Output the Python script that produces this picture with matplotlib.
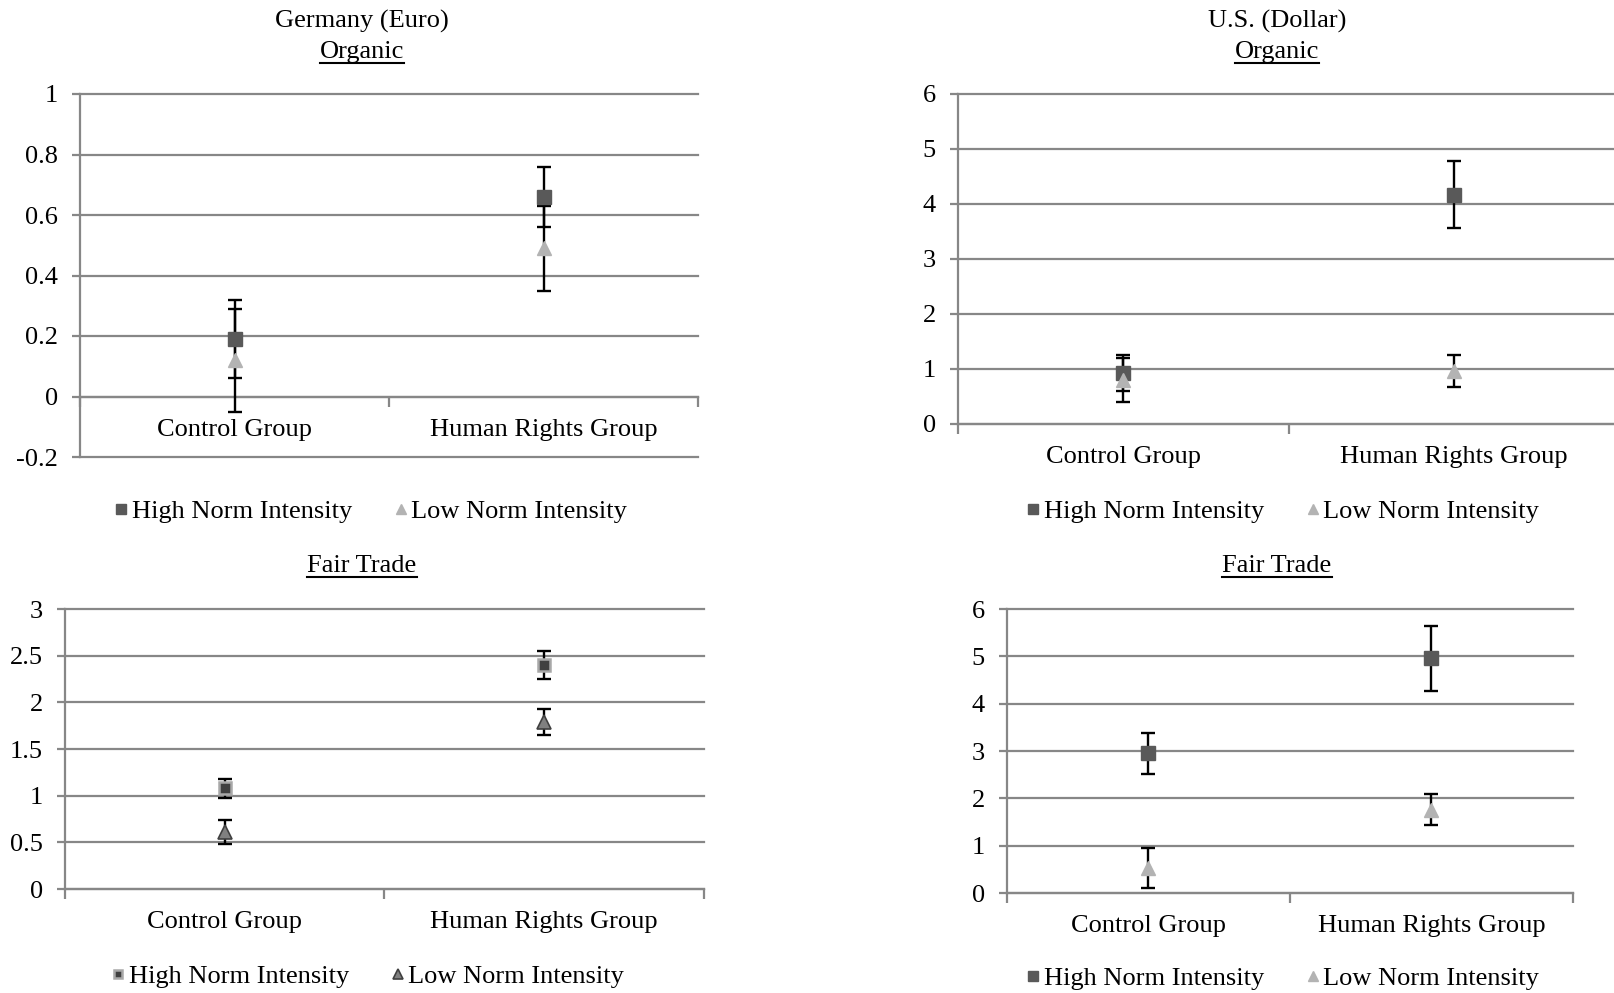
import numpy as np
import matplotlib.pyplot as plt
from matplotlib.lines import Line2D

plt.rcParams['font.family'] = ['Liberation Serif', 'DejaVu Serif']

groups = ["Control Group", "Human Rights Group"]
series = ["High Norm Intensity", "Low Norm Intensity"]

# Germany (Euro), organic
de_org_high = [0.19, 0.66]
de_org_high_err = [0.13, 0.10]
de_org_low = [0.12, 0.49]
de_org_low_err = [0.17, 0.14]
de_org_ticks = [-0.2, 0, 0.2, 0.4, 0.6, 0.8, 1]
de_org_labels = ["-0.2", "0", "0.2", "0.4", "0.6", "0.8", "1"]

# U.S. (Dollar), organic
us_org_high = [0.93, 4.17]
us_org_high_err = [0.33, 0.61]
us_org_low = [0.80, 0.97]
us_org_low_err = [0.40, 0.29]
us_org_ticks = [0, 1, 2, 3, 4, 5, 6]
us_org_labels = ["0", "1", "2", "3", "4", "5", "6"]

# Germany (Euro), fair trade
de_ft_high = [1.08, 2.40]
de_ft_high_err = [0.10, 0.15]
de_ft_low = [0.61, 1.79]
de_ft_low_err = [0.125, 0.14]
de_ft_ticks = [0, 0.5, 1, 1.5, 2, 2.5, 3]
de_ft_labels = ["0", "0.5", "1", "1.5", "2", "2.5", "3"]

# U.S. (Dollar), fair trade
us_ft_high = [2.95, 4.96]
us_ft_high_err = [0.43, 0.69]
us_ft_low = [0.53, 1.76]
us_ft_low_err = [0.43, 0.33]
us_ft_ticks = [0, 1, 2, 3, 4, 5, 6]
us_ft_labels = ["0", "1", "2", "3", "4", "5", "6"]

GRID = '#878787'
FS = 19
W, H = 1615, 993

hi_plain = dict(marker='s', ms=9.5, mfc='#595959', mec='#595959')
lo_plain = dict(marker='^', ms=10, mfc='#b3b3b3', mec='#b3b3b3')
hi_edged = dict(marker='s', ms=8.5, mfc='#404040', mec='#a8a8a8', mew=1.8)
lo_edged = dict(marker='^', ms=9.5, mfc='#808080', mec='#404040', mew=1.2)


def box(left, right, top, bottom):
    return [left / W, 1 - bottom / H, (right - left) / W, (bottom - top) / H]


def panel(ax, high, high_err, low, low_err, ticks, labels, hi_style, lo_style):
    x = np.arange(len(groups)) + 0.5
    for yv in ticks:
        ax.axhline(yv, color=GRID, lw=1.6, zorder=1, clip_on=False)
    ax.errorbar(x, high, yerr=high_err, fmt='none', ecolor='black',
                elinewidth=1.7, capsize=5, capthick=1.7, zorder=3)
    ax.errorbar(x, low, yerr=low_err, fmt='none', ecolor='black',
                elinewidth=1.7, capsize=5, capthick=1.7, zorder=3)
    ax.plot(x, high, linestyle='none', zorder=4, label=series[0], **hi_style)
    ax.plot(x, low, linestyle='none', zorder=4, label=series[1], **lo_style)
    ax.set_xlim(0, 2)
    ax.set_ylim(ticks[0], ticks[-1])
    ax.set_yticks(ticks)
    ax.set_yticklabels(labels)
    for s in ['top', 'right']:
        ax.spines[s].set_visible(False)
    ax.spines['bottom'].set_position(('data', 0))
    ax.spines['bottom'].set_color(GRID)
    ax.spines['bottom'].set_linewidth(1.6)
    ax.spines['left'].set_color(GRID)
    ax.spines['left'].set_linewidth(1.6)
    ax.set_xticks([0, 1, 2])
    ax.set_xticklabels([])
    ax.set_xticks(x, minor=True)
    ax.set_xticklabels(groups, minor=True)
    ax.tick_params(axis='x', which='major', length=7, width=1.6, color=GRID)
    ax.tick_params(axis='x', which='minor', length=0, pad=16, labelsize=FS)
    ax.tick_params(axis='y', length=6, width=1.6, color=GRID, pad=10, labelsize=FS)


fig = plt.figure(figsize=(W / 100, H / 100), dpi=100)

ax1 = fig.add_axes(box(80, 698, 94, 457))
panel(ax1, de_org_high, de_org_high_err, de_org_low, de_org_low_err,
      de_org_ticks, de_org_labels, hi_plain, lo_plain)

ax2 = fig.add_axes(box(958, 1619, 94, 424))
panel(ax2, us_org_high, us_org_high_err, us_org_low, us_org_low_err,
      us_org_ticks, us_org_labels, hi_plain, lo_plain)

ax3 = fig.add_axes(box(65, 704, 609, 889))
panel(ax3, de_ft_high, de_ft_high_err, de_ft_low, de_ft_low_err,
      de_ft_ticks, de_ft_labels, hi_edged, lo_edged)

ax4 = fig.add_axes(box(1007, 1573, 609, 893))
panel(ax4, us_ft_high, us_ft_high_err, us_ft_low, us_ft_low_err,
      us_ft_ticks, us_ft_labels, hi_plain, lo_plain)

# titles
fig.text(362 / W, 1 - 21 / H, "Germany (Euro)", ha='center', va='center', fontsize=FS)
fig.text(1277 / W, 1 - 21 / H, "U.S. (Dollar)", ha='center', va='center', fontsize=FS)
underlined = [
    fig.text(362 / W, 1 - 52 / H, "Organic", ha='center', va='center', fontsize=FS),
    fig.text(1277 / W, 1 - 52 / H, "Organic", ha='center', va='center', fontsize=FS),
    fig.text(362 / W, 1 - 566 / H, "Fair Trade", ha='center', va='center', fontsize=FS),
    fig.text(1277 / W, 1 - 566 / H, "Fair Trade", ha='center', va='center', fontsize=FS),
]

# legends
for ax, cx, cy in [(ax1, 371, 511), (ax2, 1283, 511), (ax3, 368, 976), (ax4, 1283, 978)]:
    handles, labels = ax.get_legend_handles_labels()
    fig.legend(handles, labels, loc='center', bbox_to_anchor=(cx / W, 1 - cy / H),
               ncol=2, frameon=False, fontsize=FS, handlelength=0.5,
               handletextpad=0.15, columnspacing=1.6, markerscale=0.75,
               borderpad=0, borderaxespad=0)

# underline the subtitles
fig.canvas.draw()
renderer = fig.canvas.get_renderer()
for t in underlined:
    bb = t.get_window_extent(renderer)
    y = bb.y0
    fig.add_artist(Line2D([bb.x0 / W, bb.x1 / W], [y / H, y / H], color='black', lw=1.5))

fig.savefig('out.png', dpi=100)
